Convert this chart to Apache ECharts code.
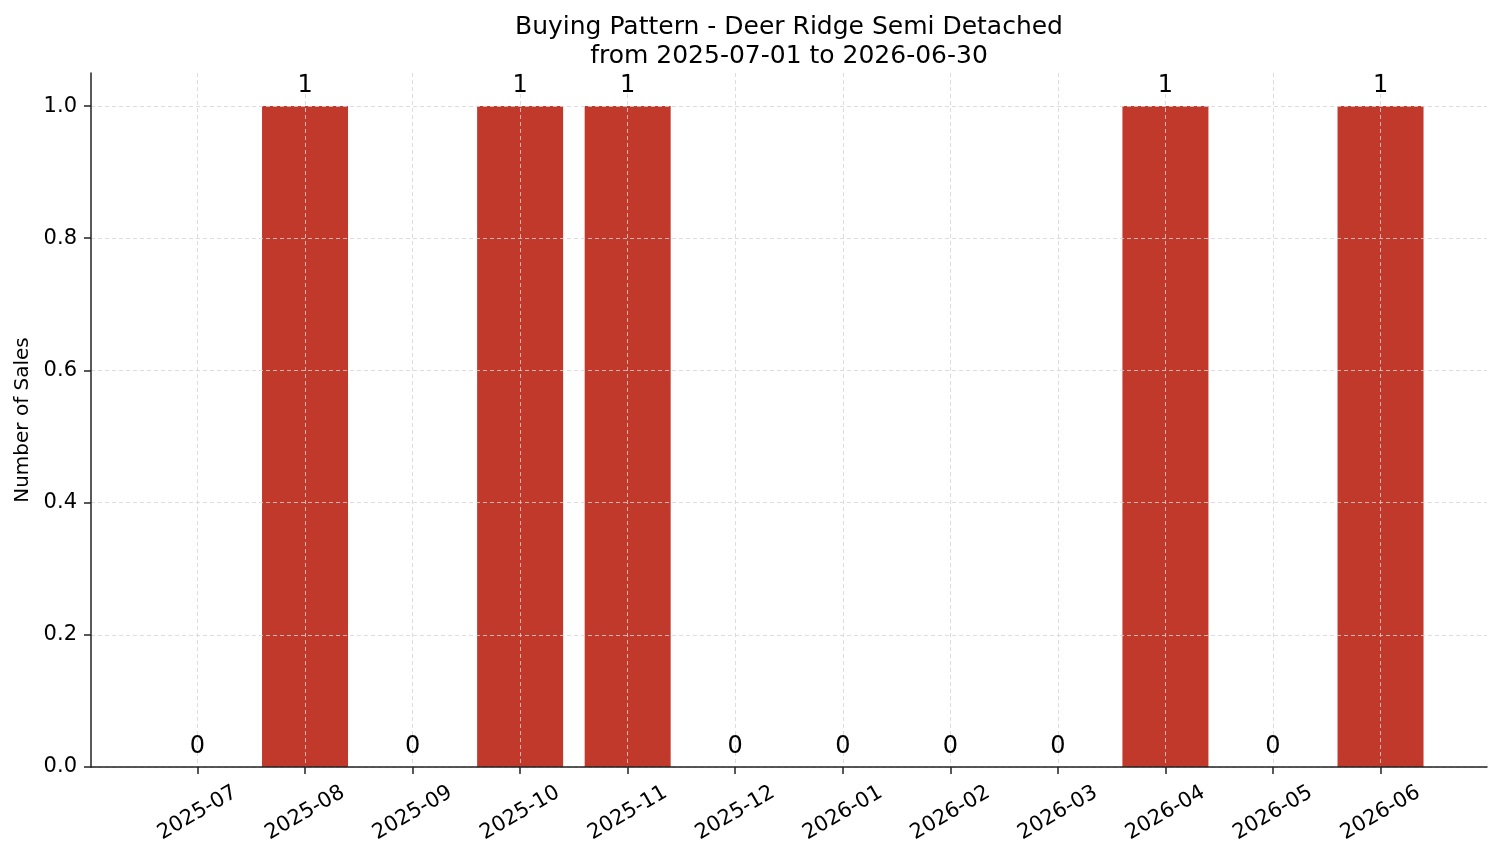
<!DOCTYPE html>
<html>
<head>
<meta charset="utf-8">
<title>Buying Pattern</title>
<script src="https://cdn.jsdelivr.net/npm/echarts@6/dist/echarts.min.js"></script>
<style>
  html, body { margin: 0; padding: 0; background: #fff; }
  #chart { width: 1501px; height: 863px; }
</style>
</head>
<body>
<div id="chart"></div>
<script>
// chart data
const months = ['2025-07', '2025-08', '2025-09', '2025-10', '2025-11', '2025-12',
  '2026-01', '2026-02', '2026-03', '2026-04', '2026-05', '2026-06']
const sales = [0, 1, 0, 1, 1, 0, 0, 0, 0, 1, 0, 1]
const yTicks = [0, 0.2, 0.4, 0.6, 0.8, 1.0]

const FONT = 'DejaVu Sans'
const gridLine = { show: true, lineStyle: { color: '#d4d4d4', type: [4, 3], width: 0.8 } }
const axisColor = '#222'

const xIdx = months.map((m, i) => i)
const barData = sales.map((v, i) => [i, v])

const chart = echarts.init(document.getElementById('chart'))
chart.setOption({
  animation: false,
  textStyle: { fontFamily: FONT },
  title: {
    text: 'Buying Pattern - Deer Ridge Semi Detached\nfrom 2025-07-01 to 2026-06-30',
    left: 789,
    top: 13,
    padding: 0,
    textAlign: 'center',
    textStyle: { fontFamily: FONT, fontSize: 25, fontWeight: 'normal', color: '#000', lineHeight: 29 }
  },
  grid: { left: 91, right: 14, top: 73, bottom: 96, containLabel: false },
  xAxis: {
    type: 'value',
    min: -0.99,
    max: 11.99,
    z: 3,
    axisLine: { onZero: false, lineStyle: { color: axisColor, width: 1.5 } },
    axisTick: { customValues: xIdx, length: 7, lineStyle: { color: axisColor, width: 1.5 } },
    axisLabel: {
      customValues: xIdx,
      formatter: v => months[v],
      rotate: 30,
      align: 'center',
      verticalAlign: 'middle',
      margin: 46,
      fontSize: 21,
      color: '#000',
      fontFamily: FONT
    },
    splitLine: gridLine
  },
  yAxis: {
    type: 'value',
    min: 0,
    max: 1.05,
    z: 3,
    name: 'Number of Sales',
    nameLocation: 'middle',
    nameGap: 56,
    nameTextStyle: { fontSize: 20, color: '#000', fontFamily: FONT },
    axisLine: { show: true, onZero: false, lineStyle: { color: axisColor, width: 1.5 } },
    axisTick: { show: true, customValues: yTicks, length: 7, lineStyle: { color: axisColor, width: 1.5 } },
    axisLabel: {
      customValues: yTicks,
      formatter: v => v.toFixed(1),
      margin: 14,
      fontSize: 21,
      color: '#000',
      fontFamily: FONT
    },
    splitLine: gridLine
  },
  series: [
    {
      type: 'bar',
      data: barData,
      barWidth: 86,
      z: 2,
      itemStyle: { color: '#c0392b' }
    },
    {
      // same values again, only to put the count labels above the grid lines
      type: 'bar',
      data: barData,
      barWidth: 86,
      barGap: '-100%',
      z: 5,
      silent: true,
      itemStyle: { color: 'rgba(0,0,0,0)' },
      label: {
        show: true,
        position: 'top',
        distance: 8,
        formatter: p => p.value[1],
        fontSize: 24,
        color: '#000',
        fontFamily: FONT
      }
    }
  ]
})
</script>
</body>
</html>
